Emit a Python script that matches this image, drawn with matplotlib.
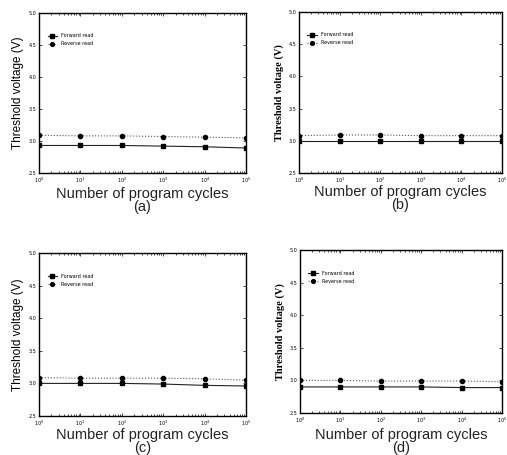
import matplotlib
matplotlib.use("Agg")
import matplotlib.pyplot as plt
import numpy as np

W, H = 507, 455
cycles = [1, 10, 100, 1000, 10000, 100000]

a_forward = [2.93, 2.93, 2.93, 2.92, 2.91, 2.89]
a_reverse = [3.09, 3.08, 3.08, 3.07, 3.06, 3.05]
b_forward = [3.00, 3.00, 3.00, 3.00, 3.00, 3.00]
b_reverse = [3.08, 3.09, 3.09, 3.08, 3.08, 3.08]
c_forward = [3.00, 3.00, 3.00, 2.99, 2.97, 2.96]
c_reverse = [3.09, 3.08, 3.08, 3.08, 3.07, 3.05]
d_forward = [2.90, 2.90, 2.90, 2.90, 2.89, 2.89]
d_reverse = [3.00, 3.00, 2.99, 2.99, 2.99, 2.98]

series_labels = ["Forward read", "Reverse read"]
panel_letters = ["(a)", "(b)", "(c)", "(d)"]
yticks = [2.5, 3.0, 3.5, 4.0, 4.5, 5.0]

fig = plt.figure(figsize=(W / 100, H / 100), dpi=100)

# pixel boxes: left, right, top, bottom
boxes = [(39, 246, 13, 173), (299, 502, 12, 173), (39, 246, 253, 416), (300, 502, 250, 413)]
data = [(a_forward, a_reverse), (b_forward, b_reverse), (c_forward, c_reverse), (d_forward, d_reverse)]
serif = [False, True, False, True]
xlab_top = [187, 185, 428, 428]

for i, ((l, r, t, b), (fw, rv)) in enumerate(zip(boxes, data)):
    ax = fig.add_axes([l / W, 1 - b / H, (r - l) / W, (b - t) / H])
    ax.plot(cycles, fw, color="#222222", lw=0.8, ls="-", marker="s", ms=3.2,
            mfc="black", mec="black", label=series_labels[0])
    ax.plot(cycles, rv, color="#555555", lw=0.8, ls=":", marker="o", ms=3.0,
            mfc="black", mec="black", label=series_labels[1])
    ax.set_xscale("log")
    ax.set_xlim(1, 1e5)
    ax.set_ylim(2.5, 5.0)
    ax.set_yticks(yticks)
    ax.set_yticklabels([f"{v:.1f}" for v in yticks])
    ax.tick_params(which="both", direction="in", top=True, right=True, labelsize=3.5,
                   length=2.5, width=0.5, pad=2)
    ax.tick_params(which="minor", length=1.5)
    for s in ax.spines.values():
        s.set_linewidth(1.0)
    fam = "Liberation Serif" if serif[i] else "Liberation Sans"
    ax.set_ylabel("Threshold voltage (V)", fontsize=8.5 if not serif[i] else 7.5,
                  family=fam, fontweight="bold" if serif[i] else "normal", labelpad=3)
    ax.legend(loc="upper left", bbox_to_anchor=(0.02, 0.9), fontsize=3.5, frameon=False,
              handlelength=2.0, labelspacing=0.6, markerscale=0.9)
    cx = (l + r) / 2 / W
    fig.text(cx, 1 - xlab_top[i] / H, "Number of program cycles\n" + panel_letters[i],
             ha="center", va="top", multialignment="center", linespacing=0.9,
             fontsize=10.5, family="Liberation Sans", color="#222222")

fig.savefig("out.png", dpi=100)
